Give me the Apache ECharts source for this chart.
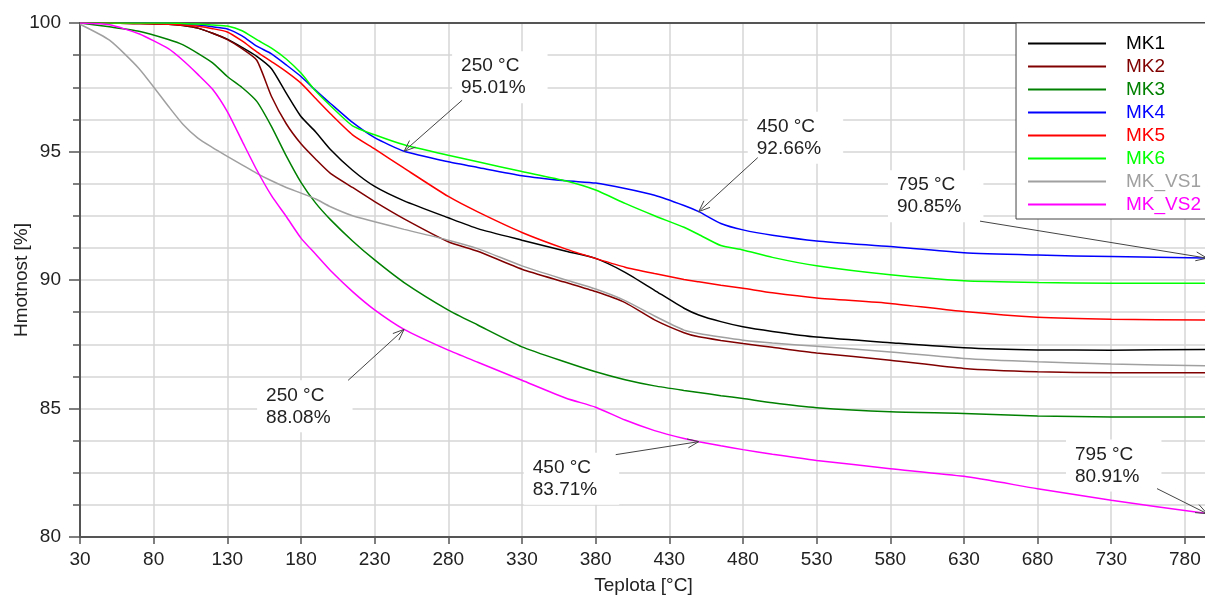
<!DOCTYPE html>
<html>
<head>
<meta charset="utf-8">
<script src="https://cdn.jsdelivr.net/npm/echarts@6/dist/echarts.min.js"></script>
<style>
  html, body { margin: 0; padding: 0; background: #fff; }
  #chart { width: 1205px; height: 595px; }
</style>
</head>
<body>
<div id="chart"></div>
<script>
// temperatures (°C) shared by all curves
const temps = [30, 50, 70, 90, 100, 110, 120, 130, 140, 150, 160, 170, 180, 190, 200, 215, 230, 250, 280, 300,
               330, 360, 380, 400, 420, 440, 450, 465, 480, 500, 530, 580, 630, 680, 730, 795];

// mass [%]
const mk1 = [100, 100, 99.98, 99.95, 99.9, 99.8, 99.6, 99.37, 99.05, 98.7, 98.22, 97.27, 96.36, 95.76, 95.08, 94.27, 93.64, 93.08, 92.42, 92.0,
             91.55, 91.12, 90.84, 90.3, 89.6, 88.9, 88.64, 88.38, 88.18, 88.0, 87.78, 87.56, 87.36, 87.28, 87.27, 87.3];
const mk2 = [100, 100, 99.98, 99.95, 99.9, 99.8, 99.6, 99.35, 99.0, 98.55, 97.14, 96.08, 95.3, 94.7, 94.15, 93.6, 93.05, 92.38, 91.49, 91.12,
             90.42, 89.9, 89.55, 89.12, 88.45, 87.95, 87.79, 87.65, 87.53, 87.38, 87.16, 86.88, 86.56, 86.43, 86.39, 86.39];
const mk3 = [100, 99.85, 99.68, 99.36, 99.15, 98.82, 98.45, 97.92, 97.49, 96.95, 95.97, 94.83, 93.8, 92.99, 92.35, 91.52, 90.78, 89.9, 88.83, 88.25,
             87.4, 86.8, 86.43, 86.12, 85.88, 85.7, 85.62, 85.5, 85.39, 85.22, 85.03, 84.87, 84.81, 84.71, 84.67, 84.67];
const mk4 = [100, 100, 100, 99.98, 99.95, 99.92, 99.85, 99.77, 99.5, 99.1, 98.8, 98.37, 97.92, 97.38, 96.87, 96.13, 95.54, 95.01, 94.6, 94.38,
             94.06, 93.86, 93.77, 93.56, 93.3, 92.9, 92.66, 92.2, 91.95, 91.74, 91.52, 91.3, 91.06, 90.97, 90.91, 90.85];
const mk5 = [100, 100, 99.98, 99.95, 99.92, 99.87, 99.78, 99.65, 99.3, 98.88, 98.5, 98.11, 97.66, 97.06, 96.47, 95.65, 95.1, 94.35, 93.25, 92.65,
             91.85, 91.2, 90.84, 90.5, 90.25, 90.02, 89.93, 89.8, 89.68, 89.5, 89.3, 89.09, 88.77, 88.55, 88.47, 88.44];
const mk6 = [100, 100, 100, 100, 99.98, 99.96, 99.92, 99.88, 99.7, 99.35, 99.02, 98.6, 98.05, 97.35, 96.78, 96.0, 95.65, 95.26, 94.85, 94.6,
             94.22, 93.85, 93.5, 92.98, 92.5, 92.05, 91.77, 91.34, 91.17, 90.88, 90.55, 90.2, 89.97, 89.9, 89.87, 89.87];
const mkVs1 = [99.95, 99.33, 98.23, 96.76, 96.05, 95.52, 95.15, 94.81, 94.48, 94.15, 93.86, 93.6, 93.38, 93.15, 92.85, 92.5, 92.27, 91.97, 91.55, 91.22,
               90.55, 90.0, 89.65, 89.2, 88.6, 88.05, 87.92, 87.78, 87.66, 87.55, 87.42, 87.2, 86.95, 86.82, 86.73, 86.66];
const mkVs2 = [100, 99.93, 99.58, 99.0, 98.54, 98.0, 97.42, 96.55, 95.41, 94.28, 93.28, 92.47, 91.63, 91.0, 90.37, 89.55, 88.84, 88.08, 87.27, 86.8,
               86.1, 85.4, 85.05, 84.55, 84.14, 83.83, 83.71, 83.55, 83.4, 83.22, 82.98, 82.66, 82.36, 81.88, 81.43, 80.91];

const seriesNames = ['MK1', 'MK2', 'MK3', 'MK4', 'MK5', 'MK6', 'MK_VS1', 'MK_VS2'];
const seriesValues = [mk1, mk2, mk3, mk4, mk5, mk6, mkVs1, mkVs2];
const seriesColors = ['#000000', '#800000', '#008000', '#0000ff', '#ff0000', '#00ff00', '#a0a0a0', '#ff00ff'];

const xTickValues = [30, 80, 130, 180, 230, 280, 330, 380, 430, 480, 530, 580, 630, 680, 730, 780];

// annotated points
const annoSeries = ['MK4', 'MK4', 'MK4', 'MK_VS2', 'MK_VS2', 'MK_VS2'];
const annoTemps = [250, 450, 795, 250, 450, 795];
const annoValues = [95.01, 92.66, 90.85, 88.08, 83.71, 80.91];
// label block top-left and arrow tail, px offsets from the marked point
const annoTextOffset = [[57, -96], [58, -96], [-310, -84], [-138, 55], [-166, 15], [-132, -70]];
const annoTailOffset = [[58, -51], [59, -54], [-227, -37], [-56, 51], [-83, 13], [-50, -25]];

const FONT = '"Liberation Sans", Arial, sans-serif';
const AXIS_COLOR = '#555';
const GRID_COLOR = '#d6d6d6';

const chart = echarts.init(document.getElementById('chart'), null, { renderer: 'canvas' });

const series = seriesNames.map((name, i) => ({
    name: name,
    type: 'line',
    data: temps.map((t, j) => [t, seriesValues[i][j]]),
    symbol: 'none',
    smooth: 0.2,
    lineStyle: { color: seriesColors[i], width: 1.5 },
    itemStyle: { color: seriesColors[i] },
    z: 3
}));

chart.setOption({
    animation: false,
    backgroundColor: '#fff',
    grid: { left: 80, right: -2, top: 23, bottom: 58, containLabel: false, outerBoundsMode: 'none' },
    legend: {
        orient: 'vertical',
        right: -6,
        top: 23,
        padding: [11, 10, 5, 11],
        itemWidth: 78,
        itemHeight: 23,
        itemGap: 4,
        backgroundColor: '#fff',
        borderColor: '#444',
        borderWidth: 1,
        selectedMode: false,
        itemStyle: { opacity: 0 },
        lineStyle: { width: 2 },
        textStyle: { fontSize: 19, fontFamily: FONT, padding: [0, 0, 0, 15] },
        data: seriesNames.map((n, i) => ({ name: n, textStyle: { color: seriesColors[i] } }))
    },
    xAxis: [{
        type: 'value',
        min: 30,
        max: 795,
        name: 'Teplota [°C]',
        nameLocation: 'middle',
        nameGap: 39,
        nameMoveOverlap: false,
        nameTextStyle: { fontSize: 19, fontFamily: FONT, color: '#222' },
        axisLine: { show: true, onZero: false, lineStyle: { color: AXIS_COLOR, width: 2 } },
        axisTick: { show: true, customValues: xTickValues, length: 7, lineStyle: { color: AXIS_COLOR, width: 1.5 } },
        axisLabel: { customValues: xTickValues, margin: 13, fontSize: 19, fontFamily: FONT, color: '#222' },
        splitLine: { show: true, customValues: xTickValues, lineStyle: { color: GRID_COLOR, width: 1.5 } }
    }, {
        type: 'value',
        position: 'top',
        min: 30,
        max: 795,
        axisLine: { show: true, onZero: false, lineStyle: { color: AXIS_COLOR, width: 2 } },
        axisTick: { show: false },
        axisLabel: { show: false },
        splitLine: { show: false }
    }],
    yAxis: {
        type: 'value',
        min: 80,
        max: 100,
        interval: 5,
        name: 'Hmotnost [%]',
        nameLocation: 'middle',
        nameGap: 49,
        nameMoveOverlap: false,
        nameTextStyle: { fontSize: 19, fontFamily: FONT, color: '#222' },
        axisLine: { show: true, onZero: false, lineStyle: { color: AXIS_COLOR, width: 2 } },
        axisTick: { show: true, length: 11, lineStyle: { color: AXIS_COLOR, width: 1.5 } },
        minorTick: { show: true, splitNumber: 4, length: 7, lineStyle: { color: AXIS_COLOR, width: 1.5 } },
        axisLabel: { margin: 19, fontSize: 19, fontFamily: FONT, color: '#222' },
        splitLine: { show: true, lineStyle: { color: GRID_COLOR, width: 1.5 } },
        minorSplitLine: { show: true, lineStyle: { color: GRID_COLOR, width: 1.5 } }
    },
    series: series
});

// annotation labels with arrows
const PAD = [4, 22, 4, 9];
const graphics = [];
annoTemps.forEach((t, i) => {
    const sIdx = seriesNames.indexOf(annoSeries[i]);
    const tip = chart.convertToPixel({ seriesIndex: sIdx }, [t, annoValues[i]]);
    const tail = [tip[0] + annoTailOffset[i][0], tip[1] + annoTailOffset[i][1]];
    graphics.push({
        type: 'text',
        x: tip[0] + annoTextOffset[i][0] - PAD[3],
        y: tip[1] + annoTextOffset[i][1] - PAD[0],
        z: 50,
        style: {
            text: t + ' °C\n' + annoValues[i].toFixed(2) + '%',
            font: '19px ' + FONT,
            fill: '#222',
            lineHeight: 22,
            backgroundColor: '#fff',
            padding: PAD
        }
    });
    const ang = Math.atan2(tip[1] - tail[1], tip[0] - tail[0]);
    const head = 12, spread = 0.38;
    const p1 = [tip[0] - head * Math.cos(ang - spread), tip[1] - head * Math.sin(ang - spread)];
    const p2 = [tip[0] - head * Math.cos(ang + spread), tip[1] - head * Math.sin(ang + spread)];
    graphics.push({
        type: 'line', z: 60,
        shape: { x1: tail[0], y1: tail[1], x2: tip[0], y2: tip[1] },
        style: { stroke: '#444', lineWidth: 1 }
    });
    graphics.push({
        type: 'polyline', z: 60,
        shape: { points: [p1, tip, p2] },
        style: { stroke: '#444', lineWidth: 1, fill: null }
    });
});
chart.setOption({ graphic: graphics });
</script>
</body>
</html>
